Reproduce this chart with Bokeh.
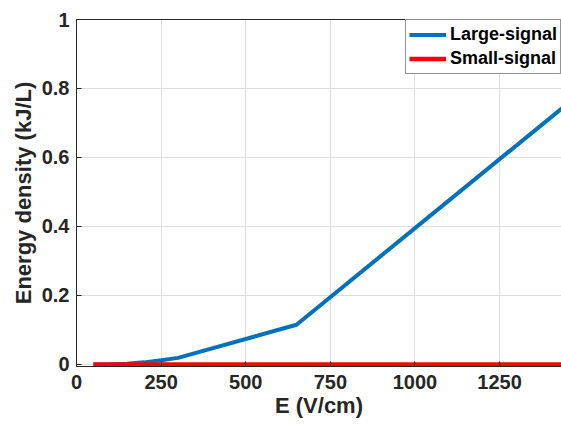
from bokeh.plotting import figure
from bokeh.models import Range1d, LinearAxis, FixedTicker, Legend, LegendItem
from bokeh.embed import file_html
from bokeh.resources import INLINE

# Data
e_large = [50, 100, 150, 200, 250, 300, 650, 1450]
w_large = [0.0, 0.0005, 0.002, 0.006, 0.012, 0.019, 0.115, 0.755]
e_small = [50, 1450]
w_small = [0.0, 0.0]
x_ticks = [0, 250, 500, 750, 1000, 1250]
y_ticks = [0, 0.2, 0.4, 0.6, 0.8, 1]

FONT = "Liberation Sans"
TXT = "#262626"

p = figure(width=561, height=427, output_backend="svg", toolbar_location=None,
           x_range=Range1d(0, 1433), y_range=Range1d(-0.006, 1),
           min_border_left=76, min_border_right=0, min_border_top=19, min_border_bottom=61)
p.outline_line_color = None
p.background_fill_color = "white"

for ax in (p.xaxis[0], p.yaxis[0]):
    ax.axis_line_color = TXT
    ax.major_tick_line_color = TXT
    ax.major_tick_in = 5
    ax.major_tick_out = 0
    ax.minor_tick_line_color = None
    ax.major_label_text_font = FONT
    ax.major_label_text_font_style = "bold"
    ax.major_label_text_font_size = "20px"
    ax.major_label_text_color = TXT
    ax.axis_label_text_font = FONT
    ax.axis_label_text_font_style = "bold"
    ax.axis_label_text_font_size = "22px"
    ax.axis_label_text_color = TXT

p.xaxis.ticker = FixedTicker(ticks=x_ticks)
p.yaxis.ticker = FixedTicker(ticks=y_ticks)
p.xaxis.axis_label = "E (V/cm)"
p.yaxis.axis_label = "Energy density (kJ/L)"
p.xaxis.major_label_standoff = 8
p.yaxis.major_label_standoff = 7
p.xaxis.axis_label_standoff = 1
p.yaxis.axis_label_standoff = 3
p.yaxis.major_label_overrides = {0: "0", 1: "1"}

top = LinearAxis(ticker=FixedTicker(ticks=[]), axis_line_color=TXT,
                 major_label_text_font_size="0px", major_tick_line_color=None,
                 minor_tick_line_color=None, major_label_standoff=0)
p.add_layout(top, "above")

p.xgrid.grid_line_color = "#dedede"
p.ygrid.grid_line_color = "#dedede"
p.xgrid.ticker = FixedTicker(ticks=x_ticks)
p.ygrid.ticker = FixedTicker(ticks=y_ticks)

r1 = p.line(e_large, w_large, line_color="#0072BD", line_width=4)
r2 = p.line(e_small, w_small, line_color="#FF0000", line_width=4.5)

legend = Legend(items=[LegendItem(label="Large-signal", renderers=[r1]),
                       LegendItem(label="Small-signal", renderers=[r2])],
                location="top_right", margin=0, padding=3, spacing=1,
                glyph_width=37, glyph_height=23, label_standoff=4,
                label_text_font=FONT, label_text_font_style="bold",
                label_text_font_size="18px", label_text_color="black",
                border_line_color=TXT, border_line_width=1,
                background_fill_color="white", background_fill_alpha=1)
p.add_layout(legend)

open("out.html", "w").write(file_html(p, INLINE))
